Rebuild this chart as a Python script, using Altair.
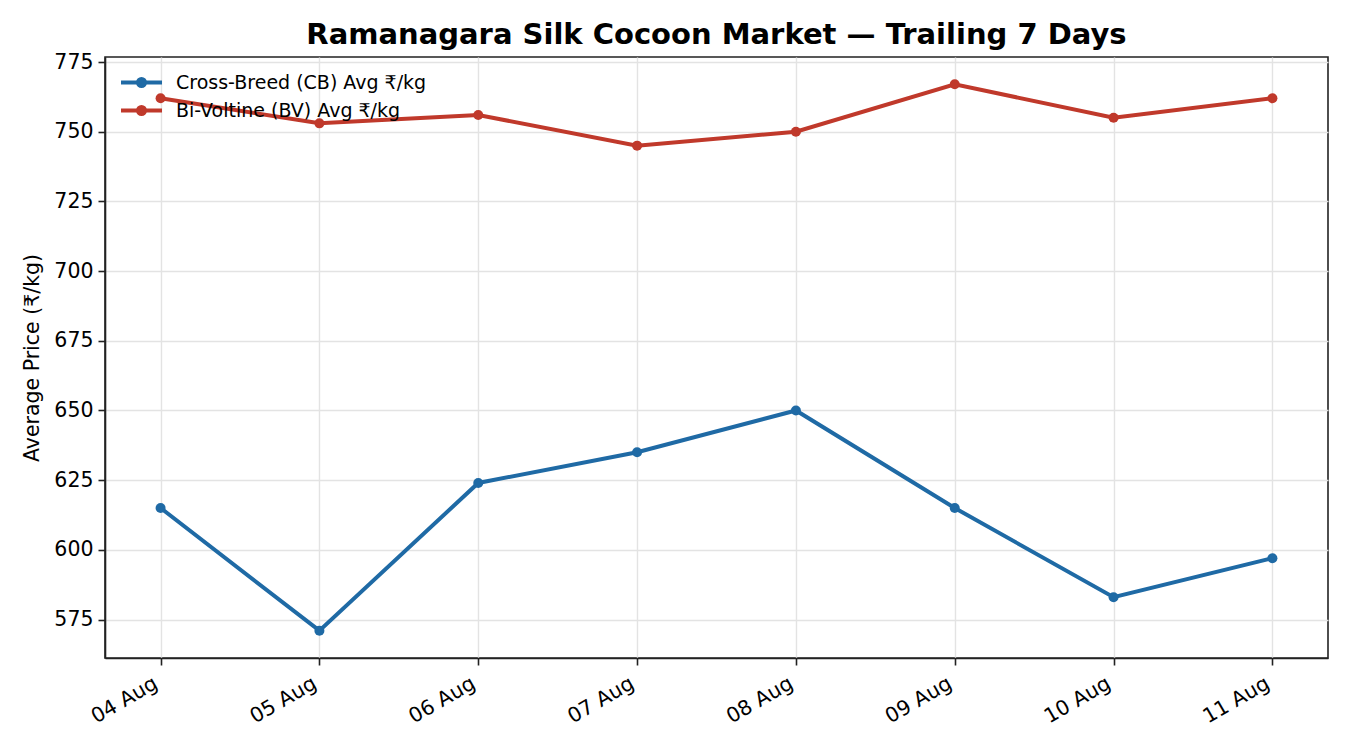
import altair as alt
import pandas as pd

dates = ["04 Aug", "05 Aug", "06 Aug", "07 Aug", "08 Aug", "09 Aug", "10 Aug", "11 Aug"]
cb_prices = [615, 571, 624, 635, 650, 615, 583, 597]
bv_prices = [762, 753, 756, 745, 750, 767, 755, 762]
series_names = ["Cross-Breed (CB) Avg ₹/kg", "Bi-Voltine (BV) Avg ₹/kg"]
series_colors = ["#1f6aa5", "#c0392b"]
y_ticks = [575, 600, 625, 650, 675, 700, 725, 750, 775]

df = pd.DataFrame({
    "date": dates * 2,
    "price": cb_prices + bv_prices,
    "series": [series_names[0]] * len(dates) + [series_names[1]] * len(dates),
})

lo = min(cb_prices + bv_prices)
hi = max(cb_prices + bv_prices)
m = 0.05 * (hi - lo)

FONT = "DejaVu Sans"
FRAME = "#222222"
GRID = "#e3e3e3"
FS = 20.5

legend_symbol = "M-2,0H2M-0.34,0A0.34,0.34 0 1,0 0.34,0A0.34,0.34 0 1,0 -0.34,0"

x_enc = alt.X(
    "date:O", sort=dates,
    scale=alt.Scale(type="point", padding=0.35),
    axis=alt.Axis(title=None, labelAngle=330, labelAlign="right", labelBaseline="top",
                  labelFontSize=FS, labelFont=FONT, labelColor="black", labelPadding=8,
                  labelOffset=-10,
                  tickSize=7, tickColor=FRAME, tickWidth=1.6,
                  domainColor=FRAME, domainWidth=1.6,
                  grid=True, gridColor=GRID, gridWidth=1.4),
)
y_enc = alt.Y(
    "price:Q",
    scale=alt.Scale(domain=[lo - m, hi + m], nice=False, zero=False),
    axis=alt.Axis(title="Average Price (₹/kg)", values=y_ticks, titleFontSize=FS,
                  titleFont=FONT, titleFontWeight="normal", titleColor="black", titlePadding=11,
                  labelFontSize=FS, labelFont=FONT, labelColor="black", labelPadding=5,
                  tickSize=7, tickColor=FRAME, tickWidth=1.6,
                  domainColor=FRAME, domainWidth=1.6,
                  grid=True, gridColor=GRID, gridWidth=1.4),
)
color_enc = alt.Color(
    "series:N",
    scale=alt.Scale(domain=series_names, range=series_colors),
    legend=alt.Legend(title=None, orient="none", legendX=24, legendY=13,
                      symbolType=legend_symbol, symbolSize=420, symbolStrokeWidth=4,
                      labelFontSize=19, labelFont=FONT, labelColor="black", labelLimit=0,
                      labelOffset=22, rowPadding=4, padding=0),
)

base = alt.Chart(df).encode(x=x_enc, y=y_enc, color=color_enc)
lines = base.mark_line(strokeWidth=4)
points = base.mark_point(filled=True, size=100, opacity=1)

chart = (
    alt.layer(lines, points)
    .properties(
        width=1223, height=601,
        autosize=alt.AutoSizeParams(type="none"),
        padding={"left": 97, "top": 49, "right": 14, "bottom": 84},
        title=alt.Title("Ramanagara Silk Cocoon Market — Trailing 7 Days", fontSize=29,
                        font=FONT, fontWeight="bold", color="black", offset=2, anchor="middle"),
        background="white",
    )
    .configure_view(stroke=FRAME, strokeWidth=1.6)
)

chart.save("out.html", embed_options={"renderer": "svg", "actions": False})
